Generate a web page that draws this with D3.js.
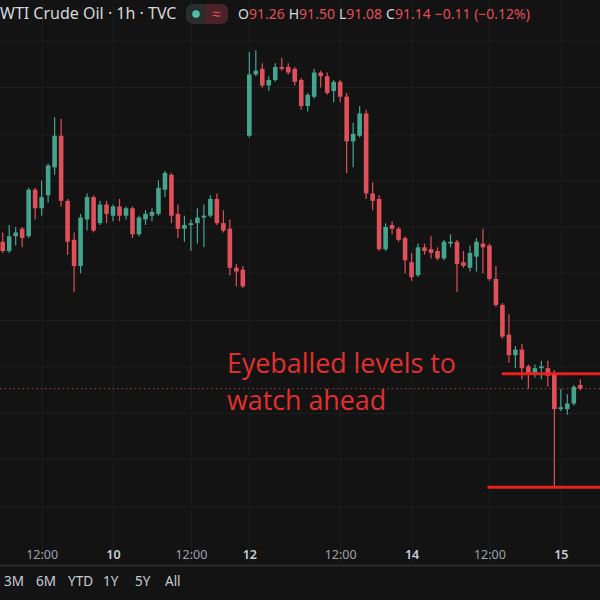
<!DOCTYPE html>
<html><head><meta charset="utf-8">
<script src="https://cdn.jsdelivr.net/npm/d3@7"></script>
<style>html,body{margin:0;padding:0;background:#131313;overflow:hidden}</style>
</head><body>
<svg id="c" width="600" height="600"></svg>
<script>
const opens = [91.92,91.87,91.95,91.99,91.95,92.20,92.10,92.17,92.32,92.49,
92.14,91.93,91.79,92.04,92.16,92.02,92.12,92.06,92.11,92.06,
92.10,91.96,92.04,92.06,92.07,92.20,92.28,92.07,91.99,92.01,
92.02,92.05,92.06,92.15,92.02,91.99,91.78,91.77,92.49,92.82,
92.85,92.76,92.79,92.86,92.86,92.85,92.79,92.65,92.70,92.83,
92.81,92.73,92.78,92.70,92.46,92.49,92.61,92.18,92.15,91.88,
92.01,91.99,91.94,91.81,91.74,91.89,91.88,91.87,91.83,91.91,
91.92,91.81,91.78,91.84,91.91,91.90,91.72,91.58,91.42,91.31,
91.34,91.25,91.21,91.24,91.24,91.21,91.02,91.02,91.05,91.15];
const highs = [91.97,92.01,92.00,92.00,92.21,92.21,92.25,92.34,92.59,92.58,
92.15,91.97,92.07,92.18,92.17,92.14,92.14,92.12,92.15,92.11,
92.11,92.06,92.09,92.10,92.25,92.30,92.29,92.12,92.06,92.04,
92.10,92.12,92.17,92.18,92.09,92.04,91.80,91.79,92.94,92.95,
92.88,92.81,92.88,92.91,92.88,92.86,92.80,92.72,92.85,92.84,
92.83,92.79,92.79,92.72,92.56,92.65,92.63,92.24,92.17,92.02,
92.03,92.00,91.95,91.86,91.91,91.91,91.95,91.89,91.93,91.96,
91.93,91.87,91.90,91.94,91.99,91.91,91.79,91.59,91.53,91.36,
91.37,91.26,91.26,91.28,91.28,91.23,91.13,91.10,91.15,91.18];
const lows = [91.86,91.86,91.90,91.89,91.94,92.04,92.06,92.13,92.28,92.11,
91.85,91.65,91.75,91.98,91.97,92.01,92.02,92.03,92.03,92.04,
91.94,91.95,92.01,92.03,92.06,92.16,92.02,91.94,91.92,91.87,
91.91,91.89,92.05,92.01,91.97,91.74,91.68,91.67,92.48,92.81,
92.75,92.73,92.78,92.84,92.82,92.76,92.63,92.62,92.69,92.75,
92.71,92.67,92.67,92.29,92.32,92.48,92.15,92.09,91.87,91.87,
91.96,91.92,91.75,91.71,91.73,91.85,91.83,91.82,91.82,91.89,
91.65,91.78,91.76,91.76,91.75,91.71,91.57,91.40,91.27,91.24,
91.18,91.13,91.19,91.18,91.14,90.60,91.01,90.99,91.04,91.12];
const closes = [91.87,91.95,91.97,91.94,92.20,92.10,92.16,92.33,92.49,92.14,
91.92,91.79,92.05,92.16,91.98,92.12,92.07,92.11,92.06,92.10,
91.96,92.05,92.07,92.08,92.21,92.29,92.06,91.99,92.01,92.02,
92.05,92.06,92.15,92.02,91.98,91.78,91.76,91.68,92.82,92.84,
92.76,92.79,92.86,92.85,92.83,92.78,92.65,92.71,92.83,92.81,
92.72,92.78,92.70,92.46,92.50,92.61,92.18,92.14,91.88,92.00,
91.99,91.93,91.82,91.73,91.89,91.87,91.86,91.83,91.92,91.92,
91.80,91.79,91.86,91.92,91.89,91.72,91.58,91.41,91.31,91.34,
91.24,91.21,91.24,91.25,91.20,91.02,91.03,91.05,91.14,91.13];

const tickIdx = [6, 17, 29, 38, 52, 63, 75, 86];
const tickLabels = ["12:00","10","12:00","12","12:00","14","12:00","15"];
const tickIsDay = [false,true,false,true,false,true,false,true];
const gridPrices = [90.50,90.75,91.00,91.25,91.50,91.75,92.00,92.25,92.50,92.75,93.00];
const levelPrices = [91.21, 90.60];
const levelStartIdx = [76.9, 74.7];
const lastPrice = 91.13;
const noteLines = ["Eyeballed levels to", "watch ahead"];
const headerTitle = "WTI Crude Oil · 1h · TVC";
const ohlcLabels = ["O","H","L","C"];
const ohlcValues = ["91.26","91.50","91.08","91.14"];
const changeText = "−0.11 (−0.12%)";
const rangeButtons = ["3M","6M","YTD","1Y","5Y","All"];

const W = 600, PH = 530;
const UP = "#45a48e", DOWN = "#e0505a";
const svg = d3.select("#c");
svg.append("rect").attr("width",W).attr("height",600).attr("fill","#131313");

const x = d3.scaleLinear().domain([0, opens.length-1]).range([2.7, 580.3]);
const y = d3.scaleLinear().domain([93.22, 90.37]).range([0, PH]);

// grid
const g = svg.append("g");
g.selectAll("line.h").data(gridPrices).join("line")
  .attr("x1",0).attr("x2",W)
  .attr("y1",d=>Math.round(y(d))+0.5).attr("y2",d=>Math.round(y(d))+0.5)
  .attr("stroke","#1d1d1d").attr("stroke-width",1);
g.selectAll("line.v").data(tickIdx).join("line")
  .attr("x1",d=>Math.round(x(d))+0.5).attr("x2",d=>Math.round(x(d))+0.5)
  .attr("y1",0).attr("y2",PH+32)
  .attr("stroke","#1d1d1d").attr("stroke-width",1);

// last price dotted line
svg.append("line").attr("x1",0).attr("x2",W)
  .attr("y1",y(lastPrice)).attr("y2",y(lastPrice))
  .attr("stroke","#9a4646").attr("stroke-width",1).attr("stroke-dasharray","1.5,3");

// candles
const idx = d3.range(opens.length);
const cg = svg.append("g");
const col = i => closes[i] >= opens[i] ? UP : DOWN;
cg.selectAll("line.w").data(idx).join("line")
  .attr("x1",i=>x(i)).attr("x2",i=>x(i))
  .attr("y1",i=>y(highs[i])).attr("y2",i=>y(lows[i]))
  .attr("stroke",col).attr("stroke-width",1.2);
cg.selectAll("rect.b").data(idx).join("rect")
  .attr("x",i=>x(i)-2.3).attr("width",4.6)
  .attr("y",i=>y(Math.max(opens[i],closes[i])))
  .attr("height",i=>Math.max(1.5, Math.abs(y(opens[i])-y(closes[i]))))
  .attr("fill",col);

// level lines
svg.selectAll("line.lvl").data(levelPrices).join("line")
  .attr("x1",(d,i)=>x(levelStartIdx[i])).attr("x2",W)
  .attr("y1",d=>y(d)).attr("y2",d=>y(d))
  .attr("stroke","#e5221f").attr("stroke-width",3);

// annotation
svg.append("text").attr("font-family","'Open Sans', 'Noto Sans', sans-serif")
  .attr("font-size",26.8).attr("fill","#e2302e")
  .selectAll("tspan").data(noteLines).join("tspan")
  .attr("x",227).attr("y",(d,i)=>373+i*37).text(d=>d);

// x axis
svg.append("line").attr("x1",0).attr("x2",W).attr("y1",565.5).attr("y2",565.5)
  .attr("stroke","#2b2b2b").attr("stroke-width",2);
const xa = svg.append("g").attr("transform",`translate(0,${PH})`)
  .call(d3.axisBottom(x).tickValues(tickIdx).tickSize(0).tickPadding(0)
    .tickFormat((d,i)=>tickLabels[i]));
xa.select(".domain").remove();
xa.selectAll("text").attr("y",20).attr("fill",(d,i)=>tickIsDay[i]?"#c9ccd4":"#9ea1a9")
  .attr("font-family","'Noto Sans', sans-serif").attr("font-size",12.5)
  .attr("font-weight",(d,i)=>tickIsDay[i]?600:400);

// range buttons
const bx = [4,36,68,103,135,165];
svg.append("g").selectAll("text").data(rangeButtons).join("text")
  .attr("x",(d,i)=>bx[i]).attr("y",586).text(d=>d)
  .attr("fill","#c9ccd4").attr("font-family","'Noto Sans', sans-serif").attr("font-size",13.5);

// header
const hf = "'Noto Sans', sans-serif";
svg.append("text").attr("x",0).attr("y",19).text(headerTitle)
  .attr("fill","#d6d8de").attr("font-family",hf).attr("font-size",16);
svg.append("rect").attr("x",186).attr("y",4).attr("width",42).attr("height",20).attr("rx",7).attr("fill","#2a2d2d");
svg.append("rect").attr("x",205).attr("y",4).attr("width",23).attr("height",20).attr("rx",7).attr("fill","#4a2329");
svg.append("rect").attr("x",205).attr("y",4).attr("width",6).attr("height",20).attr("fill","#4a2329");
svg.append("circle").attr("cx",196).attr("cy",14).attr("r",3.8).attr("fill","#4cc0a3");
svg.append("text").attr("x",216).attr("y",19).attr("text-anchor","middle").text("≈")
  .attr("fill","#e0505a").attr("font-family",hf).attr("font-size",15);
const ot = svg.append("text").attr("x",238).attr("y",19).attr("font-family",hf).attr("font-size",14);
ohlcLabels.forEach((l,i)=>{
  ot.append("tspan").attr("fill","#d6d8de").attr("dx", i?4:0).text(l);
  ot.append("tspan").attr("fill","#e0505a").text(ohlcValues[i]);
});
ot.append("tspan").attr("fill","#e0505a").attr("dx",4).text(changeText);
</script>
</body></html>
